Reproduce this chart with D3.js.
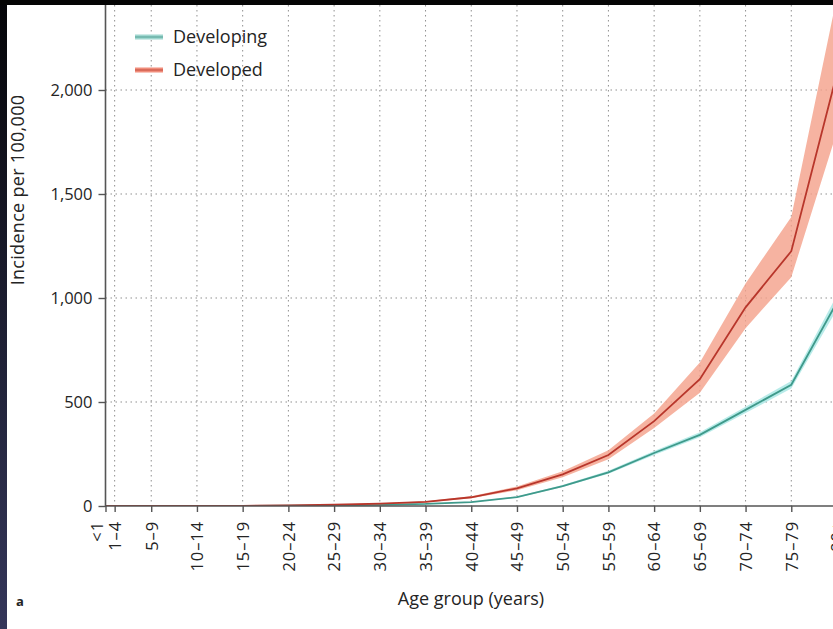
<!DOCTYPE html>
<html><head><meta charset="utf-8">
<script src="https://cdn.jsdelivr.net/npm/d3@7"></script>
<style>html,body{margin:0;padding:0;background:#fff;overflow:hidden}svg{display:block}</style>
</head><body>
<svg id="c" width="833" height="629"></svg>
<script>
const categories = ["<1","1–4","5–9","10–14","15–19","20–24","25–29","30–34","35–39","40–44","45–49","50–54","55–59","60–64","65–69","70–74","75–79","80+"];
const ageStart = [0,1,5,10,15,20,25,30,35,40,45,50,55,60,65,70,75,80];
const developed     = [0,0,0,0.5,1,3,6,11,20,42,85,152,245,408,610,955,1225,2080];
const developedLow  = [0,0,0,0.4,0.8,2.5,5,9,17,37,76,138,225,375,545,855,1100,1800];
const developedHigh = [0,0,0,0.6,1.2,3.5,7,13,23,47,94,167,268,445,690,1070,1390,2450];
const developing     = [0,0,0,0.3,0.6,1.5,3,6,10,19,43,96,162,255,342,462,583,980];
const developingLow  = [0,0,0,0.3,0.5,1.3,2.7,5.5,9,17.5,40,91,155,245,330,447,565,945];
const developingHigh = [0,0,0,0.3,0.7,1.7,3.3,6.5,11,20.5,46,101,169,265,354,477,601,1015];
const yTicks = [0,500,1000,1500,2000];
const legendLabels = ["Developing","Developed"];

const svg = d3.select("#c");
const W = 833, H = 629;
const font = "'Open Sans', 'Noto Sans', sans-serif";
const textCol = "#242424";

const x = d3.scaleLinear().domain([0,80]).range([105.5,837]);
const y = d3.scaleLinear().domain([0,2000]).range([506,90]);
const plotTop = 5;

svg.append("rect").attr("width",W).attr("height",H).attr("fill","#fff");

svg.append("clipPath").attr("id","pc").append("rect")
  .attr("x",x(0)).attr("y",plotTop).attr("width",W-x(0)).attr("height",y(0)-plotTop);

// grid
const grid = svg.append("g").attr("stroke","#8f8f8f").attr("stroke-width",1).attr("stroke-dasharray","1.5,3.5");
grid.selectAll("line.v").data(ageStart).join("line")
  .attr("x1",d=>x(d)).attr("x2",d=>x(d)).attr("y1",plotTop).attr("y2",y(0));
grid.selectAll("line.h").data(yTicks.filter(d=>d>0)).join("line")
  .attr("x1",x(0)).attr("x2",W).attr("y1",d=>y(d)).attr("y2",d=>y(d));

const idx = d3.range(categories.length);
const plot = svg.append("g").attr("clip-path","url(#pc)");

function band(lo,hi){
  return d3.area().x(i=>x(ageStart[i])).y0(i=>y(lo[i])).y1(i=>y(hi[i]))(idx);
}
function line(v){
  return d3.line().x(i=>x(ageStart[i])).y(i=>y(v[i]))(idx);
}
plot.append("path").attr("d",band(developingLow,developingHigh)).attr("fill","#a6e6e4").attr("opacity",0.8);
plot.append("path").attr("d",line(developing)).attr("fill","none").attr("stroke","#3f9a8b").attr("stroke-width",1.8);
plot.append("path").attr("d",band(developedLow,developedHigh)).attr("fill","#f4a08a").attr("opacity",0.8);
plot.append("path").attr("d",line(developed)).attr("fill","none").attr("stroke","#b8362b").attr("stroke-width",1.8);

// axes
const yAxis = d3.axisLeft(y).tickValues(yTicks).tickSize(7).tickPadding(6).tickFormat(d3.format(","));
const gy = svg.append("g").attr("transform",`translate(${x(0)},0)`).call(yAxis);
gy.select(".domain").remove();
gy.append("line").attr("x1",0).attr("x2",0).attr("y1",plotTop).attr("y2",y(0)+1).attr("stroke","#555").attr("stroke-width",1.6);
gy.selectAll(".tick line").attr("stroke","#555").attr("stroke-width",1.4);
gy.selectAll(".tick text").attr("font-family",font).attr("font-size",16.5).attr("fill",textCol);

const xAxis = d3.axisBottom(x).tickValues(ageStart).tickSize(6).tickFormat((d,i)=>categories[i]);
const gx = svg.append("g").attr("transform",`translate(0,${y(0)})`).call(xAxis);
gx.select(".domain").remove();
gx.append("line").attr("x1",x(0)).attr("x2",W).attr("y1",0).attr("y2",0).attr("stroke","#555").attr("stroke-width",1.6);
gx.selectAll(".tick line").attr("stroke","#555").attr("stroke-width",1.4);
gx.selectAll(".tick text")
  .attr("font-family",font).attr("font-size",16.5).attr("letter-spacing","0.9px").attr("fill",textCol)
  .attr("text-anchor","end").attr("dy","0.35em")
  .attr("transform",(d,i)=>`translate(${i===0?-9:0},0) rotate(-90)`)
  .attr("x",-15).attr("y",0);

// axis titles
svg.append("text").attr("x",471).attr("y",605).attr("text-anchor","middle")
  .attr("font-family",font).attr("font-size",18).attr("fill",textCol).text("Age group (years)");
svg.append("text").attr("transform","translate(24,190) rotate(-90)").attr("text-anchor","middle")
  .attr("font-family",font).attr("font-size",18).attr("letter-spacing","0.3px").attr("fill",textCol).text("Incidence per 100,000");
svg.append("text").attr("x",16).attr("y",606).attr("font-family",font).attr("font-size",13)
  .attr("font-weight","bold").attr("fill",textCol).text("a");

// legend
const legCols = [["#9fd6cf","#4f9f92"],["#f08d7b","#c24a3c"]];
const lg = svg.append("g");
legendLabels.forEach((lab,i)=>{
  const yy = 37 + i*33;
  lg.append("line").attr("x1",135).attr("x2",163).attr("y1",yy).attr("y2",yy).attr("stroke",legCols[i][0]).attr("stroke-width",5);
  lg.append("line").attr("x1",135).attr("x2",163).attr("y1",yy).attr("y2",yy).attr("stroke",legCols[i][1]).attr("stroke-width",1);
  lg.append("text").attr("x",173).attr("y",yy).attr("dy","0.35em").attr("font-family",font).attr("font-size",18)
    .attr("fill",textCol).text(lab);
});

// photo frame edges
const defs = svg.append("defs");
const gr = defs.append("linearGradient").attr("id","lg").attr("x1",0).attr("y1",0).attr("x2",0).attr("y2",1);
gr.append("stop").attr("offset","0%").attr("stop-color","#050508");
gr.append("stop").attr("offset","100%").attr("stop-color","#34365a");
svg.append("rect").attr("x",0).attr("y",0).attr("width",7).attr("height",H).attr("fill","url(#lg)");
svg.append("rect").attr("x",0).attr("y",0).attr("width",W).attr("height",5).attr("fill","#050505");
</script>
</body></html>
